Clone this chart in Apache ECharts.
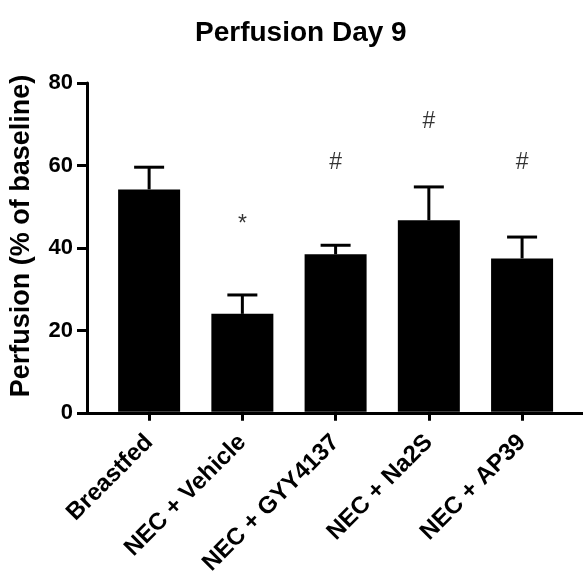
<!DOCTYPE html>
<html>
<head>
<meta charset="utf-8">
<script src="https://cdn.jsdelivr.net/npm/echarts@6/dist/echarts.min.js"></script>
<style>
  html, body { margin: 0; padding: 0; background: #fff; }
  #chart { width: 583px; height: 578px; }
</style>
</head>
<body>
<div id="chart"></div>
<script>
// 数据
var categories = ['Breastfed', 'NEC + Vehicle', 'NEC + GYY4137', 'NEC + Na2S', 'NEC + AP39'];
var means = [54.1, 23.8, 38.3, 46.6, 37.3];
var sems = [5.4, 4.6, 2.2, 8.1, 5.2];
var marks = ['', '*', '#', '#', '#'];
var markY = [null, 45.5, 60.5, 70.5, 60.5];
var yTicks = [0, 20, 40, 60, 80];

var FONT = '"Liberation Sans", Arial, sans-serif';
var chart = echarts.init(document.getElementById('chart'), null, { renderer: 'canvas' });

var errData = means.map(function (m, i) { return [i, m, m + sems[i]]; });
var markData = marks.map(function (t, i) { return t ? [i, markY[i], t] : null; }).filter(Boolean);

var option = {
  animation: false,
  title: {
    text: 'Perfusion Day 9',
    left: 190,
    top: 14,
    textStyle: { fontFamily: FONT, fontSize: 28, fontWeight: 'bold', color: '#000' }
  },
  grid: [
    { left: 86, right: 0, top: 83, height: 330 },       // 轴线
    { left: 102.5, right: 14.3, top: 83, height: 330 }  // 柱子
  ],
  xAxis: [
    {
      gridIndex: 0, type: 'value', min: 0, max: 1,
      axisLine: { show: true, lineStyle: { color: '#000', width: 3 } },
      axisTick: { show: false }, axisLabel: { show: false }, splitLine: { show: false }
    },
    {
      gridIndex: 1, type: 'category', data: categories,
      axisLine: { show: false },
      axisTick: { show: true, alignWithLabel: true, length: 9, lineStyle: { color: '#000', width: 3 } },
      axisLabel: {
        rotate: 45, margin: 27, interval: 0,
        fontFamily: FONT, fontSize: 24, fontWeight: 'bold', color: '#000'
      }
    }
  ],
  yAxis: [
    {
      gridIndex: 0, type: 'value', min: yTicks[0], max: yTicks[yTicks.length - 1], interval: 20,
      name: 'Perfusion (% of baseline)', nameLocation: 'middle', nameGap: 52,
      nameTextStyle: { fontFamily: FONT, fontSize: 27, fontWeight: 'bold', color: '#000', padding: [0, 0, 0, 24] },
      axisLine: { show: true, lineStyle: { color: '#000', width: 3 } },
      axisTick: { show: true, length: 10, lineStyle: { color: '#000', width: 3 } },
      axisLabel: { margin: 14, fontFamily: FONT, fontSize: 22, fontWeight: 'bold', color: '#000' },
      splitLine: { show: false }
    },
    {
      gridIndex: 1, type: 'value', min: 0, max: 80, show: false
    }
  ],
  series: [
    {
      type: 'bar', xAxisIndex: 1, yAxisIndex: 1,
      data: means, barWidth: 62,
      itemStyle: { color: '#000' }
    },
    {
      type: 'custom', xAxisIndex: 1, yAxisIndex: 1,
      data: errData,
      renderItem: function (params, api) {
        var base = api.coord([api.value(0), api.value(1)]);
        var top = api.coord([api.value(0), api.value(2)]);
        var st = { stroke: '#000', lineWidth: 3 };
        return {
          type: 'group',
          children: [
            { type: 'line', shape: { x1: base[0], y1: base[1], x2: top[0], y2: top[1] }, style: st },
            { type: 'line', shape: { x1: top[0] - 15, y1: top[1], x2: top[0] + 15, y2: top[1] }, style: st }
          ]
        };
      },
      z: 3
    },
    {
      type: 'scatter', xAxisIndex: 1, yAxisIndex: 1,
      data: markData, symbolSize: 0,
      label: {
        show: true, position: 'inside',
        formatter: function (p) { return p.data[2]; },
        fontFamily: FONT, fontSize: 23, color: '#000'
      }
    }
  ]
};
chart.setOption(option);
</script>
</body>
</html>
